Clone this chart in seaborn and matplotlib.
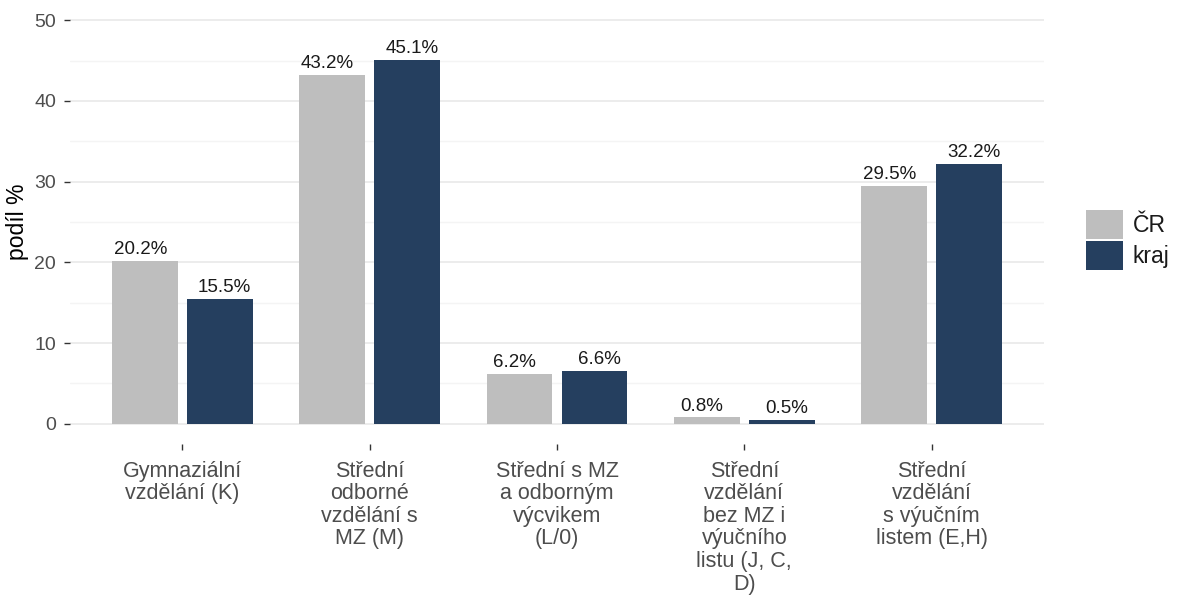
import matplotlib
matplotlib.use("Agg")
import matplotlib.pyplot as plt
import seaborn as sns
import pandas as pd
import numpy as np
from matplotlib.patches import Patch

categories = [
    "Gymnaziální\nvzdělání (K)",
    "Střední\nodborné\nvzdělání s\nMZ (M)",
    "Střední s MZ\na odborným\nvýcvikem\n(L/0)",
    "Střední\nvzdělání\nbez MZ i\nvýučního\nlistu (J, C,\nD)",
    "Střední\nvzdělání\ns výučním\nlistem (E,H)",
]
series_names = ["ČR", "kraj"]
cr_values = [20.2, 43.2, 6.2, 0.8, 29.5]
kraj_values = [15.5, 45.1, 6.6, 0.5, 32.2]
y_ticks = [0, 10, 20, 30, 40, 50]
y_label = "podíl %"

colors = {"ČR": "#bebebe", "kraj": "#253f5f"}

sns.set_theme(style="white")
plt.rcParams["font.family"] = ["Liberation Sans", "DejaVu Sans"]

df = pd.DataFrame({
    "kat": categories * 2,
    "skupina": [series_names[0]] * len(categories) + [series_names[1]] * len(categories),
    "hodnota": cr_values + kraj_values,
})

fig = plt.figure(figsize=(11.77, 5.95), dpi=100)
ax = fig.add_axes([70 / 1177, 151 / 595, (1044 - 70) / 1177, 444 / 595])

sns.barplot(data=df, x="kat", y="hodnota", hue="skupina", order=categories,
            hue_order=series_names, palette=colors, width=0.8, gap=0.125,
            saturation=1, ax=ax, legend=False, zorder=3, linewidth=0)

# value labels (dodged slightly wider than bars, as in the reference)
for s_idx, (name, vals) in enumerate(zip(series_names, [cr_values, kraj_values])):
    off = -0.225 if s_idx == 0 else 0.225
    for i, v in enumerate(vals):
        ax.annotate(f"{v:.1f}%", xy=(i + off, v), xytext=(0, 2),
                    textcoords="offset points", ha="center", va="bottom",
                    fontsize=13.5, color="#1a1a1a", zorder=4)

ax.set_xlim(-0.6, len(categories) - 1 + 0.6)
ax.set_ylim(-2.5, 52.5)
ax.set_yticks(y_ticks)
ax.set_yticks([5, 15, 25, 35, 45], minor=True)
ax.grid(axis="y", which="major", color="#ebebeb", linewidth=1.3, zorder=0)
ax.grid(axis="y", which="minor", color="#f4f4f4", linewidth=1.0, zorder=0)
ax.grid(axis="x", visible=False)
ax.set_axisbelow(True)
for sp in ax.spines.values():
    sp.set_visible(False)

ax.tick_params(axis="both", which="major", length=4, width=1, color="#333333",
               labelcolor="#4d4d4d", labelsize=14, pad=6, bottom=True, left=True)
ax.tick_params(axis="y", which="minor", length=0, left=False)
ax.tick_params(axis="x", labelsize=15.5, pad=8)
for lbl in ax.get_xticklabels():
    lbl.set_linespacing(1.1)
    lbl.set_ha("center")

ax.set_xlabel("")
ax.set_ylabel(y_label, fontsize=16.5, color="#000000", labelpad=4)

handles = [Patch(facecolor=colors[n], edgecolor="none") for n in series_names]
fig.legend(handles, series_names, loc="center left",
           bbox_to_anchor=(1086 / 1177, 1 - 240 / 595), frameon=False,
           fontsize=16.5, handlelength=1.6, handleheight=1.6,
           labelspacing=0.08, handletextpad=0.45, borderpad=0, borderaxespad=0,
           labelcolor="#1a1a1a")

fig.savefig("out.png", dpi=100, facecolor="white")
